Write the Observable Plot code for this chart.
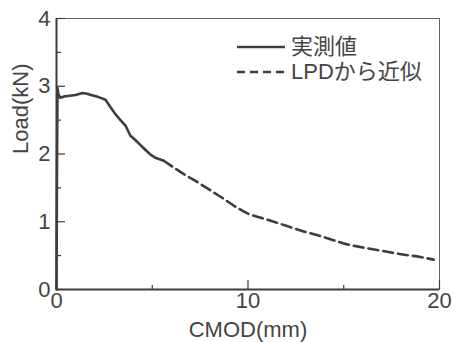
<!DOCTYPE html>
<html><head><meta charset="utf-8">
<script src="https://cdn.jsdelivr.net/npm/d3@7"></script>
<script src="https://cdn.jsdelivr.net/npm/@observablehq/plot@0.6"></script>
<style>
body{margin:0;background:#fff;}
#wrap{position:relative;width:459px;height:342px;font-family:"Liberation Sans","Noto Sans CJK JP",sans-serif;}
#legend{position:absolute;left:237px;top:34px;color:#444;font-size:22px;line-height:25px;font-family:"Liberation Sans","Noto Sans CJK JP",sans-serif;}
#legend div{display:flex;align-items:center;height:25px;}
#legend svg{margin-right:6px;}
</style></head>
<body><div id="wrap"><div id="legend"></div></div>
<script>
const measuredCmod = [0,0.02,0.05,0.1,0.2,0.4,0.7,1.0,1.36,1.6,1.8,2.2,2.56,2.82,3.1,3.4,3.6,3.86,4.1,4.39,4.65,4.91,5.2,5.6];
const measuredLoad = [0,1.5,2.98,2.88,2.83,2.85,2.86,2.87,2.9,2.89,2.87,2.84,2.8,2.69,2.58,2.48,2.42,2.27,2.21,2.13,2.06,1.99,1.94,1.9];
const approxCmod = [5.6,6.5,7.5,8.5,10,11,12,13,14,15,16,17,18,19,19.7];
const approxLoad = [1.9,1.73,1.56,1.38,1.12,1.03,0.94,0.85,0.77,0.68,0.62,0.57,0.52,0.48,0.44];
const seriesNames = ["実測値", "LPDから近似"];
const xTitle = ["CMOD(mm)"];
const yTitle = ["Load(kN)"];
const xMajor = [0,10,20];
const xMinor = [5,15];
const yMajor = [0,1,2,3,4];
const yMinor = [0.5,1.5,2.5,3.5];

const measured = measuredCmod.map((x,i)=>({x, y: measuredLoad[i]}));
const approx = approxCmod.map((x,i)=>({x, y: approxLoad[i]}));
const ink = "#3d3d3d";
const txt = "#444";
const font = '"Liberation Sans","Noto Sans CJK JP",sans-serif';

const chart = Plot.plot({
  width: 459, height: 342,
  marginLeft: 56, marginRight: 20, marginTop: 18, marginBottom: 53,
  style: {fontFamily: font, color: txt, background: "#fff"},
  x: {domain: [0,20]},
  y: {domain: [0,4]},
  marks: [
    Plot.frame({stroke: "#666", strokeWidth: 1}),
    Plot.axisX(xMajor, {tickSize: -9, tickFormat: ()=>"", stroke: ink, strokeWidth: 1.2, label: null}),
    Plot.axisX(xMinor, {tickSize: -4, tickFormat: ()=>"", stroke: ink, strokeWidth: 1.2, label: null}),
    Plot.axisX(xMajor, {tickSize: 0, tickPadding: 3, tickFormat: "d", fontSize: 22, fill: txt, label: null}),
    Plot.axisY(yMajor, {tickSize: -9, tickFormat: ()=>"", stroke: ink, strokeWidth: 1.2, label: null}),
    Plot.axisY(yMinor, {tickSize: -5, tickFormat: ()=>"", stroke: ink, strokeWidth: 1.2, label: null}),
    Plot.axisY(yMajor, {tickSize: 0, tickPadding: 6, tickFormat: "d", fontSize: 22, fill: txt, label: null}),
    Plot.text(xTitle, {text: d=>d, frameAnchor: "bottom", lineAnchor: "middle", dy: 40, fontSize: 22, fill: txt}),
    Plot.text(yTitle, {text: d=>d, frameAnchor: "left", rotate: -90, dx: -36, fontSize: 22, fill: txt}),
    Plot.ruleX([0], {stroke: ink, strokeWidth: 2}),
    Plot.ruleY([0], {stroke: ink, strokeWidth: 2}),
    Plot.line(approx, {x: "x", y: "y", stroke: ink, strokeWidth: 2.6, strokeDasharray: "10,5", curve: "monotone-x"}),
    Plot.line(measured, {x: "x", y: "y", stroke: ink, strokeWidth: 2.6})
  ]
});
document.getElementById("wrap").prepend(chart);
const lg = document.getElementById("legend");
seriesNames.forEach((n,i)=>{
  const d = document.createElement("div");
  d.innerHTML = `<svg width="48" height="6"><line x1="0" y1="3" x2="48" y2="3" stroke="${ink}" stroke-width="2.6" ${i? 'stroke-dasharray="8,5"':''}/></svg><span>${n}</span>`;
  lg.appendChild(d);
});
</script></body></html>
